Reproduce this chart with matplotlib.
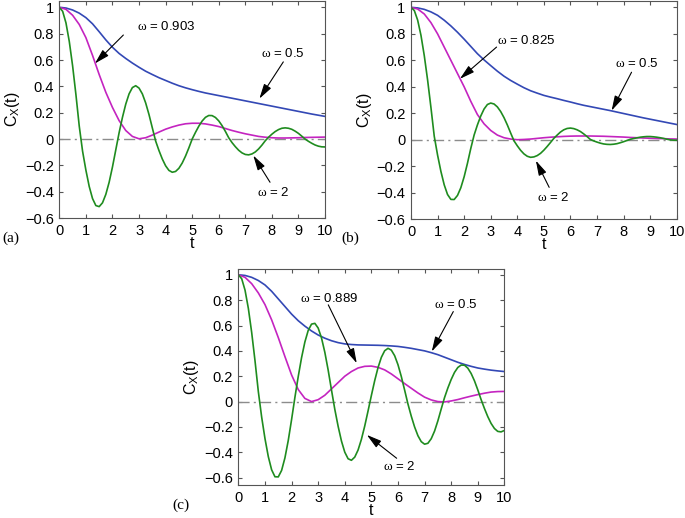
import numpy as np
import matplotlib
matplotlib.use('Agg')
import matplotlib.pyplot as plt

plt.rcParams['font.family'] = ['Liberation Sans', 'DejaVu Sans']
plt.rcParams['mathtext.fontset'] = 'custom'
plt.rcParams['mathtext.rm'] = 'Liberation Serif'
plt.rcParams['mathtext.sf'] = 'Liberation Sans'

# time grids (smooth curves read every 0.25, oscillating ones every 0.125)
t_slow = np.arange(0, 10.001, 0.25)
t_fast = np.arange(0, 10.001, 0.125)

# panel (a)
a_blue = [1.0, 0.995, 0.98, 0.956, 0.922, 0.875, 0.815, 0.753, 0.697, 0.65, 0.612,
          0.577, 0.545, 0.515, 0.49, 0.466, 0.445, 0.424, 0.405, 0.389, 0.375,
          0.362, 0.35, 0.34, 0.33, 0.32, 0.31, 0.30, 0.29, 0.28, 0.27,
          0.26, 0.25, 0.24, 0.23, 0.22, 0.21, 0.20, 0.19, 0.181, 0.172]
a_magenta = [1.0, 0.985, 0.94, 0.87, 0.77, 0.635, 0.49, 0.355, 0.24, 0.14, 0.065,
             0.02, 0.002, 0.01, 0.03, 0.053, 0.075, 0.092, 0.106, 0.116, 0.12,
             0.12, 0.115, 0.106, 0.095, 0.08, 0.065, 0.052, 0.04, 0.03, 0.02,
             0.014, 0.01, 0.008, 0.008, 0.009, 0.01, 0.012, 0.013, 0.014, 0.015]
a_green = [1.0, 0.97, 0.882, 0.741, 0.556, 0.337, 0.098, -0.092,
           -0.236, -0.36, -0.452, -0.505, -0.513, -0.484, -0.42, -0.328,
           -0.212, -0.082, 0.048, 0.164, 0.265, 0.343, 0.391, 0.405,
           0.387, 0.343, 0.274, 0.186, 0.085, -0.015, -0.087, -0.151,
           -0.203, -0.238, -0.252, -0.246, -0.222, -0.182, -0.129, -0.067,
           0.0, 0.051, 0.098, 0.137, 0.165, 0.179, 0.178, 0.164,
           0.138, 0.102, 0.058, 0.01, -0.027, -0.058, -0.085, -0.105,
           -0.117, -0.12, -0.113, -0.098, -0.075, -0.046, -0.013, 0.014,
           0.037, 0.057, 0.072, 0.082, 0.085, 0.082, 0.074, 0.06,
           0.043, 0.022, 0.0, -0.017, -0.032, -0.045, -0.054, -0.059, -0.06]

# panel (b)
b_blue = [1.0, 0.996, 0.985, 0.966, 0.94, 0.903, 0.86, 0.812, 0.76, 0.705, 0.65,
          0.603, 0.56, 0.518, 0.48, 0.448, 0.42, 0.393, 0.37, 0.352, 0.335,
          0.322, 0.31, 0.297, 0.285, 0.272, 0.26, 0.25, 0.24, 0.23, 0.22,
          0.209, 0.198, 0.187, 0.176, 0.165, 0.155, 0.145, 0.135, 0.125, 0.115]
b_magenta = [1.0, 0.988, 0.95, 0.885, 0.80, 0.70, 0.60, 0.50, 0.40, 0.29, 0.19,
             0.12, 0.07, 0.035, 0.015, 0.005, 0.0, 0.002, 0.005, 0.01, 0.015,
             0.019, 0.022, 0.025, 0.027, 0.028, 0.028, 0.028, 0.027, 0.026, 0.024,
             0.022, 0.02, 0.017, 0.015, 0.013, 0.011, 0.009, 0.008, 0.006, 0.005]
b_green = [1.0, 0.976, 0.904, 0.789, 0.635, 0.451, 0.244, 0.026,
           -0.116, -0.239, -0.341, -0.414, -0.451, -0.452, -0.421, -0.363,
           -0.28, -0.178, -0.066, 0.035, 0.112, 0.179, 0.232, 0.266,
           0.277, 0.27, 0.248, 0.213, 0.167, 0.112, 0.051, -0.008,
           -0.046, -0.08, -0.107, -0.125, -0.133, -0.13, -0.12, -0.103,
           -0.079, -0.051, -0.021, 0.01, 0.035, 0.058, 0.075, 0.085,
           0.088, 0.084, 0.075, 0.062, 0.044, 0.024, 0.002, -0.009,
           -0.018, -0.026, -0.032, -0.035, -0.036, -0.034, -0.03, -0.023,
           -0.015, -0.006, 0.003, 0.009, 0.014, 0.019, 0.022, 0.024,
           0.024, 0.022, 0.019, 0.015, 0.01, 0.004, -0.001, -0.003, -0.004]

# panel (c)
c_blue = [1.0, 0.995, 0.98, 0.955, 0.92, 0.87, 0.81, 0.75, 0.69, 0.638, 0.595,
          0.557, 0.525, 0.50, 0.48, 0.465, 0.455, 0.45, 0.447, 0.446, 0.445,
          0.444, 0.442, 0.439, 0.435, 0.428, 0.42, 0.41, 0.40, 0.386, 0.37,
          0.35, 0.33, 0.31, 0.293, 0.278, 0.265, 0.256, 0.248, 0.242, 0.237]
c_magenta = [1.0, 0.98, 0.93, 0.857, 0.765, 0.645, 0.505, 0.355, 0.21, 0.095, 0.025,
             0.0, 0.015, 0.05, 0.1, 0.15, 0.2, 0.237, 0.265, 0.278, 0.28,
             0.27, 0.25, 0.218, 0.18, 0.142, 0.105, 0.068, 0.035, 0.013, 0.0,
             -0.003, 0.005, 0.016, 0.03, 0.043, 0.055, 0.066, 0.075, 0.079, 0.08]
c_green = [1.0, 0.969, 0.879, 0.735, 0.545, 0.322, 0.079, -0.122,
           -0.292, -0.434, -0.538, -0.593, -0.594, -0.543, -0.444, -0.307,
           -0.142, 0.033, 0.197, 0.346, 0.47, 0.561, 0.611, 0.617,
           0.58, 0.502, 0.389, 0.249, 0.092, -0.061, -0.195, -0.311,
           -0.399, -0.451, -0.463, -0.438, -0.382, -0.298, -0.193, -0.074,
           0.048, 0.165, 0.268, 0.349, 0.401, 0.42, 0.406, 0.362,
           0.291, 0.198, 0.091, -0.019, -0.115, -0.2, -0.269, -0.316,
           -0.336, -0.329, -0.293, -0.233, -0.152, -0.059, 0.031, 0.107,
           0.174, 0.23, 0.269, 0.288, 0.287, 0.264, 0.222, 0.164,
           0.093, 0.016, -0.054, -0.118, -0.172, -0.212, -0.235, -0.239, -0.228]

yticks = [-0.6, -0.4, -0.2, 0, 0.2, 0.4, 0.6, 0.8, 1]
ytick_labels = ['\u22120.6', '\u22120.4', '\u22120.2', '0', '0.2', '0.4', '0.6', '0.8', '1']

BLUE = '#3348b5'
MAGENTA = '#c424c0'
GREEN = '#1f8c1f'


def arrow(ax, tail, tip):
    ax.annotate('', xy=tip, xytext=tail,
                arrowprops=dict(arrowstyle='-|>,head_length=0.9,head_width=0.25',
                                color='k', lw=0.8, shrinkA=0, shrinkB=0))


def omega_label(ax, x, y, value):
    ax.text(x, y, r'$\mathrm{\omega}$ = ' + value, fontsize=9.5,
            ha='left', va='center')


def draw_panel(ax, blue, magenta, green, ylim):
    ax.axhline(0, color='#8c8c8c', lw=1.0, ls='-.', dashes=(8, 3, 1.5, 3))
    ax.plot(t_slow, blue, color=BLUE, lw=1.2)
    ax.plot(t_slow, magenta, color=MAGENTA, lw=1.2)
    ax.plot(t_fast, green, color=GREEN, lw=1.2)
    ax.set_xlim(0, 10)
    ax.set_ylim(*ylim)
    ax.set_xticks(range(0, 11))
    ax.set_yticks(yticks)
    ax.set_yticklabels(ytick_labels)
    ax.tick_params(direction='in', top=True, right=True, labelsize=10.5,
                   length=3, color='#555555', pad=4)
    for s in ax.spines.values():
        s.set_color('#555555')
        s.set_linewidth(0.8)
    ax.set_xlabel('t', fontsize=11.5, labelpad=-1)
    ax.set_ylabel(r'C$_{\mathsf{X}}$(t)', fontsize=11.5, labelpad=2)


fig = plt.figure(figsize=(6.85, 5.18), dpi=100)

ax_a = fig.add_axes([0.0866, 0.579, 0.3879, 0.419])
draw_panel(ax_a, a_blue, a_magenta, a_green, (-0.6, 1.048))
omega_label(ax_a, 2.92, 0.858, '0.903')
arrow(ax_a, (2.41, 0.79), (1.34, 0.574))
omega_label(ax_a, 7.59, 0.65, '0.5')
arrow(ax_a, (8.43, 0.586), (7.53, 0.307))
omega_label(ax_a, 7.43, -0.405, '2')
arrow(ax_a, (7.93, -0.328), (7.3, -0.125))

ax_b = fig.add_axes([0.600, 0.577, 0.3879, 0.421])
draw_panel(ax_b, b_blue, b_magenta, b_green, (-0.6, 1.048))
omega_label(ax_b, 3.22, 0.747, '0.825')
arrow(ax_b, (3.22, 0.70), (1.84, 0.46))
omega_label(ax_b, 7.66, 0.575, '0.5')
arrow(ax_b, (8.3, 0.51), (7.55, 0.22))
omega_label(ax_b, 4.73, -0.436, '2')
arrow(ax_b, (5.2, -0.36), (4.7, -0.158))

ax_c = fig.add_axes([0.348, 0.0637, 0.3883, 0.4173])
draw_panel(ax_c, c_blue, c_magenta, c_green, (-0.658, 1.047))
omega_label(ax_c, 2.32, 0.816, '0.889')
arrow(ax_c, (3.38, 0.763), (4.45, 0.303))
omega_label(ax_c, 7.37, 0.763, '0.5')
arrow(ax_c, (8.08, 0.71), (7.27, 0.395))
omega_label(ax_c, 5.45, -0.513, '2')
arrow(ax_c, (5.95, -0.447), (4.83, -0.263))

for label, x, y in [('(a)', 0.016, 0.540), ('(b)', 0.512, 0.540), ('(c)', 0.264, 0.025)]:
    fig.text(x, y, label, fontsize=11, family='Liberation Serif', ha='center', va='center')

fig.savefig('out.png', dpi=100)
